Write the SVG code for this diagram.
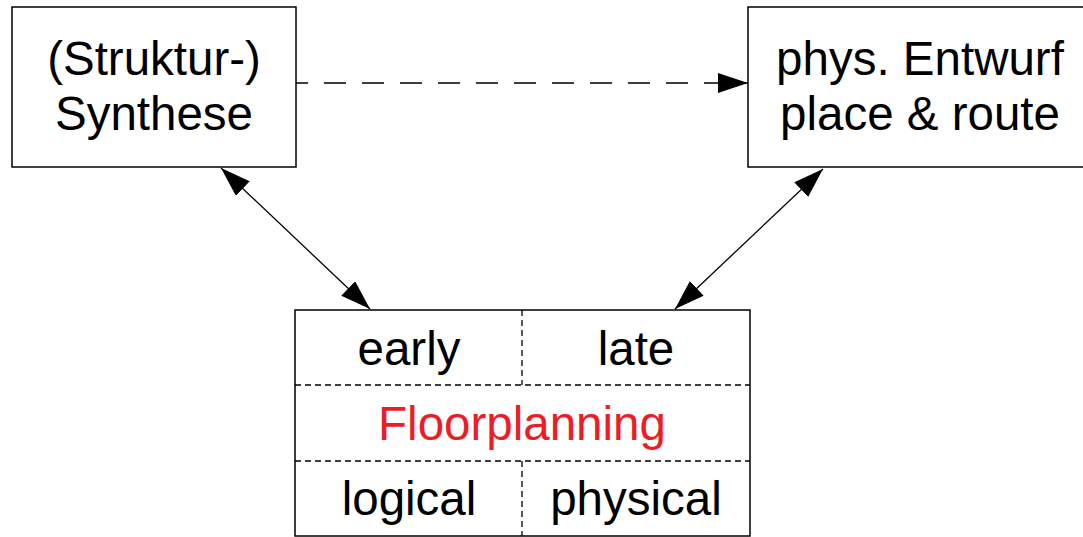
<svg xmlns="http://www.w3.org/2000/svg" width="1083" height="537" viewBox="0 0 1083 537">
  <style>
    .box { fill: #ffffff; stroke: #000000; stroke-width: 1.5; }
    .lbl { font-family: "Liberation Sans", Arial, sans-serif; font-size: 47.5px; fill: #000000; text-anchor: middle; }
    .red { fill: #ee1c25; }
    .cell { stroke: #000000; stroke-width: 1.3; stroke-dasharray: 6 4; fill: none; }
    .link { stroke: #000000; stroke-width: 1.3; fill: none; }
  </style>
  <defs>
    <marker id="head" markerUnits="userSpaceOnUse" markerWidth="32" markerHeight="22" refX="30" refY="10" orient="auto-start-reverse">
      <path d="M0,0 L30,10 L0,20 Z" fill="#000000"/>
    </marker>
  </defs>

  <rect width="1083" height="537" fill="#ffffff"/>

  <g id="synthese">
    <rect class="box" x="12" y="7" width="284" height="160"/>
    <text class="lbl" x="154" y="75">(Struktur-)</text>
    <text class="lbl" x="154" y="130">Synthese</text>
  </g>

  <g id="entwurf">
    <rect class="box" x="748" y="7" width="345" height="160"/>
    <text class="lbl" x="920" y="75">phys. Entwurf</text>
    <text class="lbl" x="920" y="130">place &amp; route</text>
  </g>

  <g id="floorplanning">
    <rect class="box" x="295" y="310" width="455" height="226"/>
    <line class="cell" x1="295" y1="385" x2="750" y2="385"/>
    <line class="cell" x1="295" y1="461" x2="750" y2="461"/>
    <line class="cell" x1="522" y1="310" x2="522" y2="385"/>
    <line class="cell" x1="522" y1="461" x2="522" y2="536"/>
    <text class="lbl" x="409" y="365">early</text>
    <text class="lbl" x="636" y="365">late</text>
    <text class="lbl red" x="522" y="440">Floorplanning</text>
    <text class="lbl" x="409" y="515">logical</text>
    <text class="lbl" x="636" y="515">physical</text>
  </g>

  <g id="connectors">
    <line class="link" x1="296" y1="83" x2="748" y2="83" stroke-dasharray="22 16" stroke-dashoffset="10" marker-end="url(#head)"/>
    <line class="link" x1="221" y1="168" x2="370" y2="309" marker-start="url(#head)" marker-end="url(#head)"/>
    <line class="link" x1="823" y1="169" x2="675" y2="309" marker-start="url(#head)" marker-end="url(#head)"/>
  </g>
</svg>
